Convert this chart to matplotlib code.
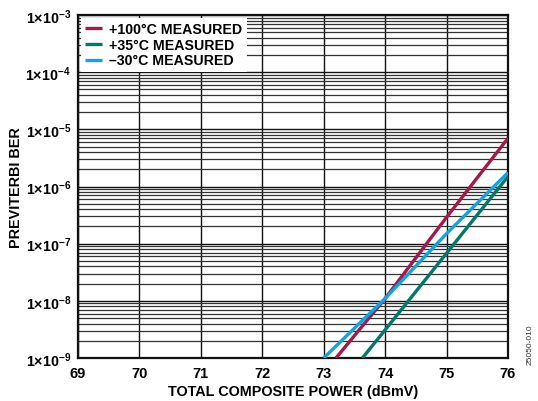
import matplotlib
matplotlib.use("Agg")
import matplotlib.pyplot as plt
import numpy as np
from matplotlib.ticker import LogLocator, NullFormatter, FixedLocator

plt.rcParams['font.family'] = ['Liberation Sans', 'DejaVu Sans']
plt.rcParams['mathtext.fontset'] = 'custom'
plt.rcParams['mathtext.rm'] = 'Liberation Sans'
plt.rcParams['mathtext.bf'] = 'Liberation Sans:bold'
plt.rcParams['mathtext.it'] = 'Liberation Sans:italic'

# Measured pre-Viterbi BER vs total composite power
power_100c = [73.2, 74.0, 75.0, 76.0]
ber_100c = [1.0e-9, 1.1e-8, 2.9e-7, 7.0e-6]

power_35c = [73.63, 74.0, 75.0, 76.0]
ber_35c = [1.0e-9, 3.1e-9, 6.8e-8, 1.5e-6]

power_m30c = [73.0, 74.0, 75.0, 76.0]
ber_m30c = [1.0e-9, 1.1e-8, 1.5e-7, 1.75e-6]

labels = ['+100°C MEASURED', '+35°C MEASURED', '–30°C MEASURED']
colors = ['#A3194A', '#00796B', '#10A5DE']

x_ticks = [69, 70, 71, 72, 73, 74, 75, 76]
y_exponents = [-9, -8, -7, -6, -5, -4, -3]

fig = plt.figure(figsize=(5.38, 4.02), dpi=100)
ax = fig.add_axes([78/538, 1 - 359/402, 430/538, 343/402])

ax.set_yscale('log')
ax.set_xlim(69, 76)
ax.set_ylim(1e-9, 1e-3)

for px, py, c, lab in zip([power_100c, power_35c, power_m30c],
                          [ber_100c, ber_35c, ber_m30c], colors, labels):
    ax.plot(px, py, color=c, lw=2.4, label=lab, solid_capstyle='butt', zorder=3)

ax.xaxis.set_major_locator(FixedLocator(x_ticks))
ax.set_xticklabels([str(v) for v in x_ticks])
ax.yaxis.set_major_locator(FixedLocator([10.0**e for e in y_exponents]))
ax.set_yticklabels([r'$\mathbf{1{\times}10^{%d}}$' % e for e in y_exponents])
ax.yaxis.set_minor_locator(LogLocator(base=10, subs=np.arange(2, 10), numticks=20))
ax.yaxis.set_minor_formatter(NullFormatter())

ax.grid(True, which='major', color='#111111', lw=1.0, zorder=1)
ax.grid(True, which='minor', axis='y', color='#333333', lw=0.9, zorder=1)
ax.tick_params(which='both', length=0)
ax.tick_params(axis='x', pad=6, labelsize=10.5)
ax.tick_params(axis='y', pad=5, labelsize=10.3)
for t in ax.get_xticklabels():
    t.set_fontweight('bold')

for s in ax.spines.values():
    s.set_linewidth(1.6)
    s.set_color('#111111')

ax.set_xlabel('TOTAL COMPOSITE POWER (dBmV)', fontsize=10.4, fontweight='bold', labelpad=3)
ax.set_ylabel('PREVITERBI BER', fontsize=10.4, fontweight='bold', labelpad=2)

leg = ax.legend(loc='upper left', frameon=True, fancybox=False, framealpha=1,
                edgecolor='white', prop={'weight': 'bold', 'size': 10.2},
                handlelength=1.2, handletextpad=0.5, borderpad=0.3,
                labelspacing=0.12, borderaxespad=0.2)
leg.get_frame().set_linewidth(0)
leg.set_zorder(5)

fig.text(530/538, 1 - 345/402, '25050-010', rotation=90, fontsize=6,
         ha='center', va='center', color='#333333')

fig.savefig('out.png', dpi=100)
